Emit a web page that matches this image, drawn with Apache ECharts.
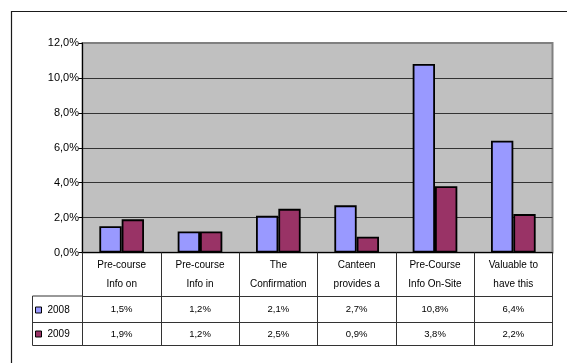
<!DOCTYPE html>
<html>
<head>
<meta charset="utf-8">
<script src="https://cdn.jsdelivr.net/npm/echarts@6/dist/echarts.min.js"></script>
<style>
  html, body { margin: 0; padding: 0; background: #ffffff; }
  #chart { width: 567px; height: 363px; }
</style>
</head>
<body>
<div id="chart"></div>
<script>
// Survey categories (label text as shown in the table header)
var categories = [
  'Pre-course\nInfo on',
  'Pre-course\nInfo in',
  'The\nConfirmation',
  'Canteen\nprovides a',
  'Pre-Course\nInfo On-Site',
  'Valuable to\nhave this'
];
var seriesNames = ['2008', '2009'];
// Shares in percent
var values2008 = [1.5, 1.2, 2.1, 2.7, 10.8, 6.4];
var values2009 = [1.9, 1.2, 2.5, 0.9, 3.8, 2.2];
var yTicks = [0, 2, 4, 6, 8, 10, 12];

var FONT = '"Liberation Sans", Arial, sans-serif';
var TABLE_LINE = '#333333';

function pct(v) {
  return v.toFixed(1).replace('.', ',') + '%';
}

var chart = echarts.init(document.getElementById('chart'), null, { renderer: 'canvas' });

var gridLeft = 82.5, gridRight = 14.5, gridTop = 43, gridBottom = 110.5;
var axisY = 363 - gridBottom;          // 252.5
var rowHeader = 43.5, row1 = 26.5, row2 = 23;

function valueRowAxis(offset, rowH, data) {
  return {
    type: 'category',
    data: categories,
    position: 'bottom',
    offset: offset,
    axisLine: { show: true, lineStyle: { color: TABLE_LINE, width: 1 } },
    axisTick: { show: false },
    axisLabel: {
      interval: 0,
      margin: rowH / 2,
      verticalAlign: 'middle',
      fontFamily: FONT,
      fontSize: 9.5,
      color: '#000',
      formatter: function (v, i) { return pct(data[i]); }
    },
    splitLine: { show: false }
  };
}

var legendX0 = 32.5;
var yRow1 = axisY + rowHeader;          // 296
var yRow2 = yRow1 + row1;               // 322.5
var yRow3 = yRow2 + row2;               // 345.5

chart.setOption({
  animation: false,
  backgroundColor: '#ffffff',
  textStyle: { fontFamily: FONT },
  grid: {
    left: gridLeft, right: gridRight, top: gridTop, bottom: gridBottom,
    show: true,
    backgroundColor: '#C0C0C0',
    borderColor: '#808080',
    borderWidth: 2
  },
  legend: {
    data: seriesNames,
    orient: 'vertical',
    left: 35,
    top: yRow1 + 9,
    itemWidth: 6,
    itemHeight: 6,
    itemGap: 14,
    icon: 'rect',
    textStyle: { fontFamily: FONT, fontSize: 10, color: '#000', padding: [0, 0, 0, 1] },
    itemStyle: { borderColor: '#000', borderWidth: 1 },
    padding: 0,
    selectedMode: false
  },
  xAxis: [
    {
      type: 'category',
      data: categories,
      position: 'bottom',
      axisLine: { show: true, lineStyle: { color: '#000', width: 1 } },
      axisTick: {
        show: true,
        length: rowHeader + row1 + row2,
        lineStyle: { color: TABLE_LINE, width: 1 }
      },
      axisLabel: {
        interval: 0,
        margin: 3,
        lineHeight: 19,
        fontFamily: FONT,
        fontSize: 10,
        color: '#000'
      },
      splitLine: { show: false }
    },
    valueRowAxis(rowHeader, row1, values2008),
    valueRowAxis(rowHeader + row1, row2, values2009),
    {
      type: 'category',
      data: categories,
      position: 'bottom',
      offset: rowHeader + row1 + row2,
      axisLine: { show: true, lineStyle: { color: TABLE_LINE, width: 1 } },
      axisTick: { show: false },
      axisLabel: { show: false },
      splitLine: { show: false }
    }
  ],
  yAxis: {
    type: 'value',
    min: yTicks[0],
    max: yTicks[yTicks.length - 1],
    interval: yTicks[1] - yTicks[0],
    axisLine: { show: true, lineStyle: { color: '#000', width: 1 } },
    axisTick: { show: true, length: 4, lineStyle: { color: '#000' } },
    axisLabel: {
      margin: 3.5,
      fontFamily: FONT,
      fontSize: 11,
      color: '#000',
      formatter: function (v) { return pct(v); }
    },
    splitLine: {
      show: true,
      showMinLine: false,
      showMaxLine: false,
      lineStyle: { color: '#333333', width: 1 }
    }
  },
  series: [
    {
      name: seriesNames[0],
      type: 'bar',
      data: values2008,
      barGap: '0%',
      barCategoryGap: '43%',
      itemStyle: { color: '#9999FF', borderColor: '#000', borderWidth: 1.8 }
    },
    {
      name: seriesNames[1],
      type: 'bar',
      data: values2009,
      itemStyle: { color: '#993366', borderColor: '#000', borderWidth: 1.8 }
    }
  ],
  graphic: [
    // outer chart frame
    {
      type: 'rect',
      shape: { x: 11.5, y: 11.5, width: 620, height: 420 },
      style: { fill: 'none', stroke: '#1a1a1a', lineWidth: 1.2 },
      silent: true, z: 100
    },
    // legend column of the data table
    {
      type: 'polyline',
      shape: { points: [[gridLeft, yRow1], [legendX0, yRow1], [legendX0, yRow3], [gridLeft, yRow3]] },
      style: { fill: 'none', stroke: TABLE_LINE, lineWidth: 1 },
      silent: true
    },
    {
      type: 'line',
      shape: { x1: legendX0, y1: yRow2, x2: gridLeft, y2: yRow2 },
      style: { stroke: TABLE_LINE, lineWidth: 1 },
      silent: true
    }
  ]
});
</script>
</body>
</html>
